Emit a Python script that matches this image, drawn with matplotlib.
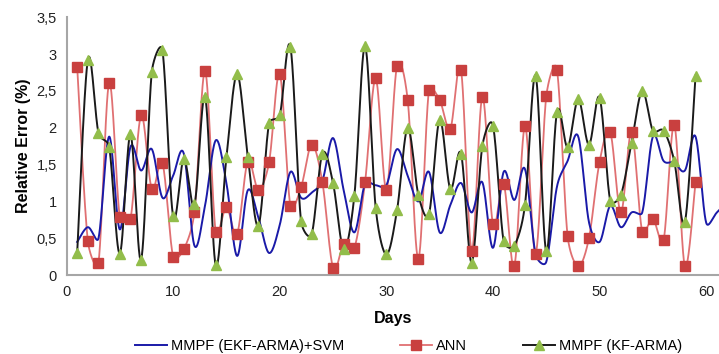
import numpy as np
import matplotlib
matplotlib.use("Agg")
import matplotlib.pyplot as plt
from matplotlib.lines import Line2D
from matplotlib.ticker import FuncFormatter

# Daily relative error (%) of three forecasting methods
days = list(range(1, 60))
svm_days = list(range(1, 63))

ekf_svm = [0.45, 0.65, 0.50, 1.88, 0.62, 1.74, 1.42, 1.71, 1.05, 1.35,
           1.65, 0.40, 0.95, 1.83, 1.25, 0.26, 1.15, 0.78, 0.30, 0.68,
           1.40, 1.05, 1.12, 1.28, 1.86, 1.15, 0.58, 1.24, 1.22, 1.22,
           1.71, 1.35, 1.00, 1.40, 0.58, 0.95, 1.25, 0.85, 1.26, 0.37,
           1.40, 1.02, 1.44, 0.28, 0.18, 1.20, 1.55, 1.88, 0.72, 0.45,
           0.94, 0.65, 0.85, 0.85, 1.88, 1.55, 1.53, 1.42, 1.88, 0.71,
           0.85, 1.00]

ann = [2.83, 0.46, 0.17, 2.61, 0.79, 0.76, 2.17, 1.17, 1.52, 0.25,
       0.35, 0.86, 2.77, 0.58, 0.92, 0.56, 1.54, 1.16, 1.53, 2.73,
       0.94, 1.19, 1.77, 1.26, 0.10, 0.42, 0.37, 1.26, 2.67, 1.16,
       2.84, 2.38, 0.22, 2.52, 2.38, 1.99, 2.79, 0.33, 2.42, 0.69,
       1.24, 0.12, 2.02, 0.29, 2.43, 2.79, 0.53, 0.12, 0.50, 1.54,
       1.94, 0.85, 1.94, 0.59, 0.76, 0.47, 2.04, 0.12, 1.26]

kf_arma = [0.30, 2.92, 1.93, 1.74, 0.29, 1.91, 0.21, 2.76, 3.05, 0.80,
           1.58, 0.96, 2.42, 0.13, 1.60, 2.73, 1.61, 0.67, 2.06, 2.17,
           3.10, 0.73, 0.56, 1.65, 1.25, 0.35, 1.08, 3.11, 0.91, 0.28,
           0.88, 2.00, 1.09, 0.83, 2.11, 1.17, 1.65, 0.17, 1.75, 2.03,
           0.46, 0.40, 0.95, 2.71, 0.32, 2.21, 1.74, 2.39, 1.77, 2.41,
           1.01, 1.09, 1.80, 2.50, 1.96, 1.96, 1.55, 0.72, 2.71]

labels = ["MMPF (EKF-ARMA)+SVM", "ANN", "MMPF (KF-ARMA)"]
x_ticks = [0, 10, 20, 30, 40, 50, 60]
y_ticks = [0, 0.5, 1, 1.5, 2, 2.5, 3, 3.5]

X_MAX, Y_MAX = 61.2, 3.5


def smooth(x, y, sx, sy, n=30):
    """Spreadsheet-style smoothed line: cubic Bezier segments whose control
    arms are 1/6 of the neighbour chord, capped at half the segment length
    (lengths measured in screen units, sx/sy = pixels per data unit)."""
    pts = np.column_stack([np.asarray(x, float) * sx, np.asarray(y, float) * sy])
    P = np.vstack([pts[0], pts, pts[-1]])
    t = np.linspace(0, 1, n)[:, None]
    out = []
    for i in range(len(pts) - 1):
        p0, p1, p2, p3 = P[i], P[i + 1], P[i + 2], P[i + 3]
        d02 = np.hypot(*(p2 - p0))
        d12 = np.hypot(*(p2 - p1))
        d13 = np.hypot(*(p3 - p1))
        f = 1 / 6 if d02 / 6 < d12 / 2 or d02 == 0 else d12 / 2 / d02
        g = 1 / 6 if d13 / 6 < d12 / 2 or d13 == 0 else d12 / 2 / d13
        c1 = p1 + (p2 - p0) * f
        c2 = p2 - (p3 - p1) * g
        seg = ((1 - t) ** 3) * p1 + 3 * ((1 - t) ** 2) * t * c1 \
            + 3 * (1 - t) * (t ** 2) * c2 + (t ** 3) * p2
        out.append(seg if i == 0 else seg[1:])
    s = np.vstack(out)
    return s[:, 0] / sx, s[:, 1] / sy


plt.rcParams["font.family"] = ["Liberation Sans", "DejaVu Sans"]

fig = plt.figure(figsize=(7.19, 3.54), dpi=100)
ax_rect = [0.0925, 0.223, 0.9075, 0.728]
ax = fig.add_axes(ax_rect)

# pixels per data unit, used by the smoothing
px_x = ax_rect[2] * 719 / X_MAX
px_y = ax_rect[3] * 354 / Y_MAX

c_blue = "#1a1aa8"
c_red_line = "#e07072"
c_red_mark = "#c9403f"
c_black = "#1a1a1a"
c_green = "#92bd4a"

bx, by = smooth(svm_days, ekf_svm, px_x, px_y)
ax.plot(bx, by, color=c_blue, lw=1.4, zorder=3)

rx, ry = smooth(days, ann, px_x, px_y)
ax.plot(rx, ry, color=c_red_line, lw=1.3, zorder=2)
ax.plot(days, ann, ls="none", marker="s", ms=6.5, color=c_red_mark,
        markeredgecolor=c_red_mark, zorder=4)

kx, ky = smooth(days, kf_arma, px_x, px_y)
ax.plot(kx, ky, color=c_black, lw=1.4, zorder=3)
ax.plot(days, kf_arma, ls="none", marker="^", ms=7, color=c_green,
        markeredgecolor=c_green, zorder=5)

ax.set_xlim(0, X_MAX)
ax.set_ylim(0, Y_MAX)
ax.set_xticks(x_ticks)
ax.set_yticks(y_ticks)
ax.yaxis.set_major_formatter(FuncFormatter(lambda v, p: f"{v:g}".replace(".", ",")))
ax.tick_params(length=0, labelsize=10.5, colors="#222222", pad=7)

for side in ("top", "right"):
    ax.spines[side].set_visible(False)
for side in ("left", "bottom"):
    ax.spines[side].set_color("#a6a6a6")
    ax.spines[side].set_linewidth(1.5)

ax.set_xlabel("Days", fontsize=11.5, fontweight="bold", labelpad=9)
ax.set_ylabel("Relative Error (%)", fontsize=11.5, fontweight="bold", labelpad=4)

handles = [
    Line2D([], [], color=c_blue, lw=1.4),
    Line2D([], [], color=c_red_line, lw=1.3, marker="s", ms=6.5,
           markerfacecolor=c_red_mark, markeredgecolor=c_red_mark),
    Line2D([], [], color=c_black, lw=1.4, marker="^", ms=7,
           markerfacecolor=c_green, markeredgecolor=c_green),
]
fig.legend(handles, labels, loc="lower center", bbox_to_anchor=(0.568, -0.035),
           ncol=3, frameon=False, fontsize=10.5, handlelength=2.2,
           columnspacing=3.8, handletextpad=0.3)

fig.savefig("out.png", dpi=100)
